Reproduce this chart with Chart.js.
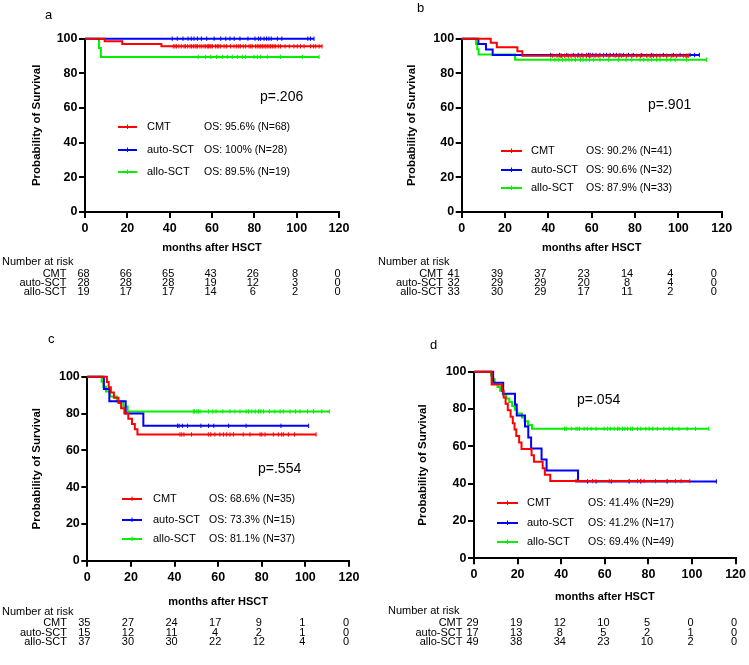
<!DOCTYPE html>
<html>
<head>
<meta charset="utf-8">
<title>Overall survival after HSCT</title>
<script src="https://cdn.jsdelivr.net/npm/chart.js@4.4.1/dist/chart.umd.min.js"></script>
<style>
    html, body { margin: 0; padding: 0; background: #fff; }
    body { width: 749px; height: 665px; position: relative; overflow: hidden; }
    .panel { position: absolute; }
</style>
</head>
<body>
<div class="panel" style="left:0;top:0;width:375px;height:300px"><canvas id="kmA"></canvas></div>
<div class="panel" style="left:375px;top:0;width:374px;height:300px"><canvas id="kmB"></canvas></div>
<div class="panel" style="left:0;top:320px;width:375px;height:345px"><canvas id="kmC"></canvas></div>
<div class="panel" style="left:375px;top:320px;width:374px;height:345px"><canvas id="kmD"></canvas></div>
<script>
var FONT = "'Liberation Sans', Arial, sans-serif";

var groups = ['CMT', 'auto-SCT', 'allo-SCT'];
var colors = ['#ff0000', '#0000ff', '#00f000'];
var monthTicks = [0, 20, 40, 60, 80, 100, 120];
var survTicks = [0, 20, 40, 60, 80, 100];
var pValues = ['p=.206', 'p=.901', 'p=.554', 'p=.054'];

// ---- panel a ----
var a_os = ['OS: 95.6% (N=68)', 'OS: 100% (N=28)', 'OS: 89.5% (N=19)'];
var a_cmt_t = [9.3, 17.6, 36.1];
var a_cmt_s = [98.5, 97.0, 95.6];
var a_cmt_c = [41.7, 42.5, 43.2, 44.4, 45.5, 46.8, 47.5, 48.5, 49.6, 50.3, 51.2, 52.0, 52.5, 53.2, 54.3, 55.2, 56.2, 57.0, 57.8, 58.4, 59.0, 59.5,
               60.2, 61.7, 62.5, 63.2, 64.1, 65.7, 66.8, 68.8, 70.4, 71.5, 72.6, 73.4, 74.8, 75.9, 77.5, 78.3, 79.0,
               80.6, 81.4, 82.2, 83.0, 83.8, 84.6, 85.4, 86.1, 86.9, 87.7, 88.5, 89.3, 90.1, 91.3, 92.4, 94.5, 96.5, 98.7,
               100.3, 101.8, 103.5, 106.6, 108.0, 109.0, 110.6, 112.0];
var a_auto_t = [];
var a_auto_s = [];
var a_auto_c = [41.2, 43.6, 46.3, 48.7, 50.2, 51.5, 53.1, 55.0, 57.5, 61.0, 64.1, 66.5, 68.5, 70.5, 73.2, 77.0,
                80.3, 82.0, 83.0, 84.6, 85.8, 86.9, 88.0, 90.9, 93.0, 105.3, 106.5, 108.2];
var a_allo_t = [6.6, 7.5];
var a_allo_s = [94.7, 89.5];
var a_allo_c = [53.5, 57.0, 59.4, 62.2, 64.9, 67.2, 69.6, 72.0, 74.3, 75.9, 79.8, 81.4, 83.0, 86.1, 92.4, 102.7, 110.6];
var a_risk_cmt = [68, 66, 65, 43, 26, 8, 0];
var a_risk_auto = [28, 28, 28, 19, 12, 3, 0];
var a_risk_allo = [19, 17, 17, 14, 6, 2, 0];

// ---- panel b ----
var b_os = ['OS: 90.2% (N=41)', 'OS: 90.6% (N=32)', 'OS: 87.9% (N=33)'];
var b_cmt_t = [13.4, 16.2, 25.7, 28.0];
var b_cmt_s = [97.6, 95.1, 92.7, 90.2];
var b_cmt_c = [42.0, 44.0, 45.5, 46.1, 47.5, 49.2, 50.5, 52.3, 53.5, 54.6, 56.0, 57.5, 58.9, 59.6,
               61.5, 63.0, 65.4, 68.0, 70.8, 72.5, 73.8, 76.1, 78.5,
               80.8, 82.5, 85.4, 87.0, 88.5, 90.0, 91.5, 94.6, 97.0, 99.2, 102.3, 103.5, 104.0, 104.6];
var b_auto_t = [7.7, 11.2, 14.3];
var b_auto_s = [96.9, 93.8, 90.6];
var b_auto_c = [41.1, 45.1, 48.5, 51.5, 53.8, 55.5, 57.7, 58.5, 59.3,
                60.5, 62.0, 63.8, 65.5, 66.9, 68.5, 70.0, 71.5, 73.0, 74.6, 77.0, 79.2,
                83.1, 87.7, 93.1, 97.7, 100.8, 105.4, 107.5, 109.7];
var b_allo_t = [6.6, 7.2, 7.8, 24.6];
var b_allo_s = [97.0, 93.9, 90.9, 87.9];
var b_allo_c = [41.1, 43.0, 44.6, 46.5, 48.1, 49.5, 50.8, 52.5, 54.9, 56.0, 57.4, 59.0,
                60.8, 63.8, 67.7, 72.3, 75.8, 78.5, 82.3, 84.0, 86.0, 87.7, 90.0, 91.5, 94.6, 96.5, 98.5, 103.8, 113.0];
var b_risk_cmt = [41, 39, 37, 23, 14, 4, 0];
var b_risk_auto = [32, 29, 29, 20, 8, 4, 0];
var b_risk_allo = [33, 30, 29, 17, 11, 2, 0];

// ---- panel c ----
var c_os = ['OS: 68.6% (N=35)', 'OS: 73.3% (N=15)', 'OS: 81.1% (N=37)'];
var c_cmt_t = [9.0, 9.8, 10.8, 12.2, 14.3, 15.5, 17.0, 18.8, 20.5, 21.8, 23.0];
var c_cmt_s = [97.1, 94.3, 91.4, 88.6, 85.7, 82.9, 80.0, 77.1, 74.3, 71.4, 68.6];
var c_cmt_c = [42.5, 43.3, 44.3, 47.8, 55.5, 56.6, 58.5, 60.8, 62.4, 63.9, 65.4, 67.0, 71.5, 74.6, 79.2,
               80.0, 81.5, 85.3, 87.6, 89.1, 89.9, 92.2, 95.0, 104.9];
var c_auto_t = [7.6, 10.1, 17.6, 25.7];
var c_auto_s = [93.3, 86.7, 80.0, 73.3];
var c_auto_c = [41.4, 42.1, 43.6, 46.0, 52.1, 55.6, 58.0, 64.8, 72.8, 88.8, 101.5];
var c_allo_t = [6.6, 7.4, 8.6, 10.4, 13.5, 16.5, 18.5];
var c_allo_s = [97.3, 94.6, 91.9, 89.2, 86.5, 83.8, 81.1];
var c_allo_c = [48.6, 49.1, 50.2, 50.9, 51.7, 55.5, 57.5, 59.0, 62.1, 65.4, 67.7, 70.0, 72.8, 73.9, 75.4, 77.0, 78.5, 79.5,
                80.8, 83.5, 86.0, 88.4, 89.9, 93.0, 95.5, 97.5, 101.0, 103.7, 107.5, 111.0];
var c_risk_cmt = [35, 27, 24, 17, 9, 1, 0];
var c_risk_auto = [15, 12, 11, 4, 2, 1, 0];
var c_risk_allo = [37, 30, 30, 22, 12, 4, 0];

// ---- panel d ----
var d_os = ['OS: 41.4% (N=29)', 'OS: 41.2% (N=17)', 'OS: 69.4% (N=49)'];
var d_cmt_t = [8.1, 12.8, 13.6, 14.5, 15.5, 16.8, 17.8, 18.6, 19.4, 20.7, 21.8, 26.4, 27.5, 31.5, 32.5, 35.0];
var d_cmt_s = [93.1, 89.7, 86.2, 82.8, 79.3, 75.9, 72.4, 69.0, 65.5, 62.1, 58.6, 55.2, 51.7, 48.3, 44.8, 41.4];
var d_cmt_c = [46.8, 54.4, 62.0, 71.2, 75.0, 76.5, 78.0, 83.3, 88.6, 92.4, 95.0, 99.0];
var d_auto_t = [8.8, 13.4, 18.8, 19.6, 23.4, 24.9, 26.2, 31.0, 33.3, 47.7];
var d_auto_s = [94.1, 88.2, 82.4, 76.5, 70.6, 64.7, 58.8, 52.9, 47.1, 41.2];
var d_auto_c = [52.1, 56.0, 63.0, 71.2, 76.5, 88.6, 111.2];
var d_allo_t = [7.8, 8.2, 9.5, 10.8, 12.0, 13.2, 14.8, 16.2, 17.5, 18.8, 19.8, 22.0, 23.2, 24.8, 26.6];
var d_allo_s = [98.0, 95.9, 93.9, 91.8, 89.8, 87.8, 85.7, 83.7, 81.6, 79.6, 77.6, 75.5, 73.5, 71.4, 69.4];
var d_allo_c = [41.5, 42.3, 44.6, 46.8, 47.6, 48.4, 50.5, 52.0, 53.7, 56.0, 59.7,
                61.3, 62.5, 64.3, 65.8, 66.6, 68.1, 69.2, 70.4, 71.9, 72.7, 75.0, 76.5, 78.8,
                80.3, 82.0, 84.1, 87.1, 89.5, 91.0, 94.0, 97.8, 101.6, 107.7];
var d_risk_cmt = [29, 19, 12, 10, 5, 0, 0];
var d_risk_auto = [17, 13, 8, 5, 2, 1, 0];
var d_risk_allo = [49, 38, 34, 23, 10, 2, 0];

// step curve: start at 100, drop at each event, censored points sit on the current level
function kmCurve(times, levels, censors) {
    var pts = [{x: 0, y: 100}];
    times.forEach(function(t, i) { pts.push({x: t, y: levels[i]}); });
    censors.forEach(function(t) {
        var s = 100;
        times.forEach(function(et, i) { if (et <= t) s = levels[i]; });
        pts.push({x: t, y: s, c: true});
    });
    pts.sort(function(p, q) { return p.x - q.x; });
    return pts;
}

var kmExtras = {
    id: 'kmExtras',
    afterDraw: function(chart, args, o) {
        var ctx = chart.ctx;
        var xs = chart.scales.x;
        ctx.save();
        ctx.fillStyle = '#000';
        ctx.textBaseline = 'middle';
        ctx.textAlign = 'left';

        ctx.font = '13px ' + FONT;
        ctx.fillText(o.letter, o.letterX, o.letterY);

        ctx.font = '14px ' + FONT;
        ctx.fillText(o.p, o.pX, o.pY);

        // legend inside the plot
        groups.forEach(function(g, i) {
            var y = o.legY[i];
            ctx.strokeStyle = colors[i];
            ctx.lineWidth = 2;
            ctx.beginPath();
            ctx.moveTo(o.legX[0], y);
            ctx.lineTo(o.legX[1], y);
            ctx.stroke();
            var mx = (o.legX[0] + o.legX[1]) / 2;
            ctx.lineWidth = 1;
            ctx.beginPath();
            ctx.moveTo(mx, y - 2.5);
            ctx.lineTo(mx, y + 2);
            ctx.stroke();
            ctx.font = '11px ' + FONT;
            ctx.fillText(g, o.labX, y);
            ctx.font = '10.5px ' + FONT;
            ctx.fillText(o.os[i], o.osX, y);
        });

        // number at risk table
        ctx.font = '11px ' + FONT;
        ctx.fillText('Number at risk', o.narX, o.narY);
        o.risk.forEach(function(row, i) {
            var y = o.rowY[i];
            ctx.textAlign = 'right';
            ctx.fillText(groups[i], o.rowLabelRight, y);
            ctx.textAlign = 'center';
            row.forEach(function(n, j) {
                ctx.fillText(String(n), xs.getPixelForValue(monthTicks[j]) + o.colShift, y);
            });
        });
        ctx.restore();
    }
};

function makeKM(id, curves, P, extras) {
    var datasets = curves.map(function(cv, i) {
        return {
            label: groups[i],
            data: kmCurve(cv[0], cv[1], cv[2]),
            borderColor: colors[i],
            backgroundColor: colors[i],
            borderWidth: 2,
            stepped: true,
            fill: false,
            clip: 8,
            pointStyle: 'line',
            pointRotation: 90,
            pointRadius: function(c) { return c.raw && c.raw.c ? 2.2 : 0; },
            pointBorderColor: colors[i],
            pointBorderWidth: 1,
            pointHoverRadius: 0
        };
    });

    var tickFont = {family: FONT, size: 12.5, weight: 'bold'};
    var axisGrid = {display: true, drawOnChartArea: false, drawTicks: true, tickLength: 6, color: '#000', lineWidth: 2};
    var axisBorder = {display: true, color: '#000', width: 2};

    return new Chart(document.getElementById(id), {
        type: 'line',
        data: {datasets: datasets},
        options: {
            responsive: true,
            maintainAspectRatio: false,
            animation: false,
            events: [],
            layout: {padding: {left: P.padL, top: P.padT, right: P.padR, bottom: P.padB}},
            plugins: {
                legend: {display: false},
                tooltip: {enabled: false},
                kmExtras: extras
            },
            scales: {
                x: {
                    type: 'linear',
                    min: 0,
                    max: 120,
                    afterBuildTicks: function(s) { s.ticks = monthTicks.map(function(v) { return {value: v}; }); },
                    afterFit: function(s) { s.height = P.xAxisH; },
                    ticks: {color: '#000', font: tickFont, padding: 3, maxRotation: 0, autoSkip: false},
                    grid: axisGrid,
                    border: axisBorder,
                    title: {display: true, text: 'months after HSCT', color: '#000',
                            font: {family: FONT, size: 11, weight: 'bold'}, padding: {top: 0, bottom: 0}}
                },
                y: {
                    min: 0,
                    max: 100,
                    afterBuildTicks: function(s) { s.ticks = survTicks.map(function(v) { return {value: v}; }); },
                    afterFit: function(s) { s.width = 70; },
                    ticks: {color: '#000', font: tickFont, padding: 1.5},
                    grid: axisGrid,
                    border: axisBorder,
                    title: {display: true, text: 'Probability of Survival', color: '#000',
                            font: {family: FONT, size: 11.5, weight: 'bold'}, padding: {top: P.yTitlePad, bottom: 0}}
                }
            }
        },
        plugins: [kmExtras]
    });
}

makeKM('kmA',
    [[a_cmt_t, a_cmt_s, a_cmt_c], [a_auto_t, a_auto_s, a_auto_c], [a_allo_t, a_allo_s, a_allo_c]],
    {padL: 15, padT: 38.7, padR: 36, padB: 45.4, xAxisH: 42.6, yTitlePad: 15.1},
    {letter: 'a', letterX: 45, letterY: 15, p: pValues[0], pX: 260, pY: 97,
     legX: [118, 137], legY: [127, 150, 172], labX: 147, osX: 204, os: a_os,
     narX: 2, narY: 262, rowY: [273.5, 282.5, 291.5], rowLabelRight: 66.5, colShift: -1.5,
     risk: [a_risk_cmt, a_risk_auto, a_risk_allo]});

makeKM('kmB',
    [[b_cmt_t, b_cmt_s, b_cmt_c], [b_auto_t, b_auto_s, b_auto_c], [b_allo_t, b_allo_s, b_allo_c]],
    {padL: 16.7, padT: 38.7, padR: 27.3, padB: 45.1, xAxisH: 42.9, yTitlePad: 13.4},
    {letter: 'b', letterX: 42, letterY: 8, p: pValues[1], pX: 273, pY: 105,
     legX: [126, 147], legY: [151, 170, 188], labX: 156, osX: 211, os: b_os,
     narX: 3, narY: 262, rowY: [273.5, 282.5, 291.5], rowLabelRight: 68, colShift: -8,
     risk: [b_risk_cmt, b_risk_auto, b_risk_allo]});

makeKM('kmC',
    [[c_cmt_t, c_cmt_s, c_cmt_c], [c_auto_t, c_auto_s, c_auto_c], [c_allo_t, c_allo_s, c_allo_c]],
    {padL: 17.3, padT: 56.7, padR: 26, padB: 56.4, xAxisH: 47.9, yTitlePad: 12.8},
    {letter: 'c', letterX: 48, letterY: 19, p: pValues[2], pX: 258, pY: 149,
     legX: [122, 142], legY: [179, 200, 219], labX: 153, osX: 209, os: c_os,
     narX: 2, narY: 292, rowY: [303.3, 313, 322], rowLabelRight: 67, colShift: -3,
     risk: [c_risk_cmt, c_risk_auto, c_risk_allo]});

makeKM('kmD',
    [[d_cmt_t, d_cmt_s, d_cmt_c], [d_auto_t, d_auto_s, d_auto_c], [d_allo_t, d_allo_s, d_allo_c]],
    {padL: 29, padT: 51.7, padR: 12, padB: 61.4, xAxisH: 45.3, yTitlePad: 12.1},
    {letter: 'd', letterX: 55, letterY: 25, p: pValues[3], pX: 202, pY: 80,
     legX: [122, 143], legY: [183, 203, 222], labX: 152, osX: 213, os: d_os,
     narX: 13, narY: 290.7, rowY: [303.3, 313, 322], rowLabelRight: 87.5, colShift: -1.4,
     risk: [d_risk_cmt, d_risk_auto, d_risk_allo]});
</script>
</body>
</html>
